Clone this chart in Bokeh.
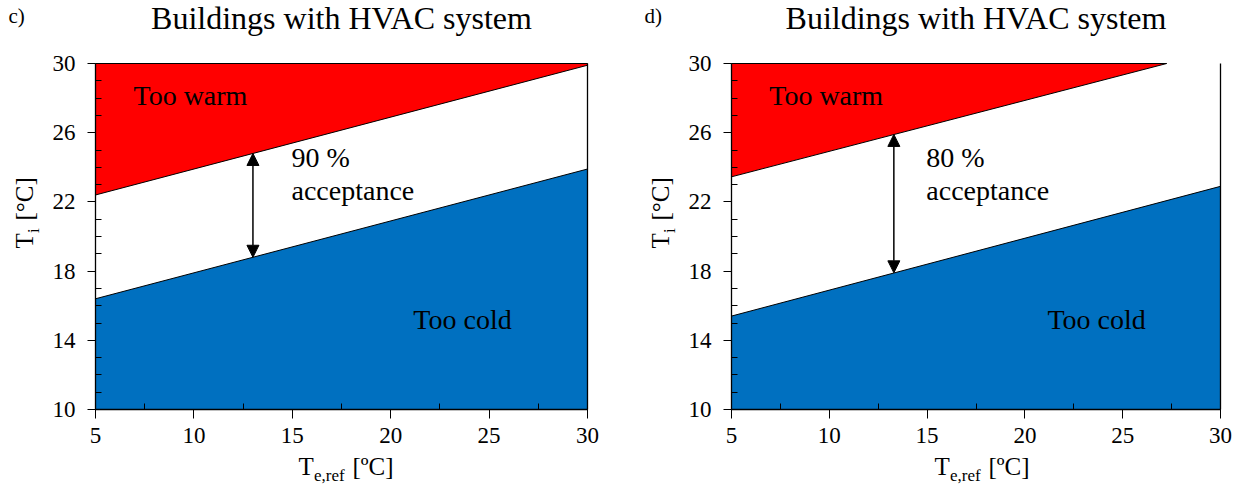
import math
from bokeh.plotting import figure
from bokeh.layouts import row
from bokeh.models import Range1d, FixedTicker, Label, Arrow, NormalHead
from bokeh.embed import file_html
from bokeh.resources import INLINE

FONT = "Liberation Serif"

# ---- data -------------------------------------------------------------
panel_tags = ["c)", "d)"]
titles = ["Buildings with HVAC system", "Buildings with HVAC system"]
acceptance_pct = ["90 %", "80 %"]

# upper comfort boundary (above = too warm)
warm_x = [[5, 30], [5, 27.25]]
warm_y = [[22.4, 29.9], [23.45, 30.0]]
# lower comfort boundary (below = too cold)
cold_x = [[5, 30], [5, 30]]
cold_y = [[16.4, 23.9], [15.4, 22.9]]
# acceptance arrows
arrow_x = [13.0, 13.3]
arrow_lo = [18.8, 17.9]
arrow_hi = [24.8, 25.9]

x_ticks = [5, 10, 15, 20, 25, 30]
y_ticks = [10, 14, 18, 22, 26, 30]
x_minor = [7.5, 12.5, 17.5, 22.5, 27.5]
y_minor = [11, 12, 13, 15, 16, 17, 19, 20, 21, 23, 24, 25, 27, 28, 29]

RED = "#FF0000"
BLUE = "#0070C0"

W, H = 621, 490
# plot-area pixel box inside each panel: (left, right, top, bottom)
BOXES = [(95, 587, 63, 409), (110, 599, 63, 409)]


def make_panel(i):
    x0, x1 = x_ticks[0], x_ticks[-1]
    y0, y1 = y_ticks[0], y_ticks[-1]
    L, R, T, B = BOXES[i]
    kx = (x1 - x0) / (R - L)
    ky = (y1 - y0) / (B - T)
    xr = Range1d(x0 - L * kx, x1 + (W - R) * kx)
    yr = Range1d(y0 - (H - B) * ky, y1 + T * ky)
    p = figure(width=W, height=H, output_backend="svg", toolbar_location=None,
               x_range=xr, y_range=yr,
               min_border_left=0, min_border_right=0,
               min_border_top=0, min_border_bottom=0)
    p.outline_line_color = None
    p.grid.visible = False
    p.background_fill_color = "white"
    p.border_fill_color = "white"

    # regions
    wx = warm_x[i]
    wy = warm_y[i]
    p.patch([wx[0]] + wx + [wx[-1]], [y1] + wy + [y1],
            fill_color=RED, line_color="black", line_width=1)
    cx = cold_x[i]
    cy = cold_y[i]
    p.patch([cx[0]] + cx + [cx[-1]], [y0] + cy + [y0],
            fill_color=BLUE, line_color="black", line_width=1)

    # right-hand border line
    p.segment(x0=[x1], y0=[y0], x1=[x1], y1=[y1], line_color="black", line_width=1.3)

    # arrow
    p.add_layout(Arrow(start=NormalHead(size=12, fill_color="black", line_color="black"),
                       end=NormalHead(size=12, fill_color="black", line_color="black"),
                       x_start=arrow_x[i], y_start=arrow_lo[i],
                       x_end=arrow_x[i], y_end=arrow_hi[i],
                       line_color="black", line_width=1.5))

    # axes (placed at the plot-area edges)
    p.xaxis.fixed_location = y0
    p.yaxis.fixed_location = x0
    p.xaxis.bounds = (x0, x1)
    p.yaxis.bounds = (y0, y1)
    for ax in (p.xaxis, p.yaxis):
        ax.axis_line_color = "black"
        ax.axis_line_width = 1.3
        ax.major_tick_line_color = "black"
        ax.minor_tick_line_color = "black"
        ax.major_tick_in = 0
        ax.minor_tick_in = 6
        ax.minor_tick_out = 0
        ax.major_label_text_font = FONT
        ax.major_label_text_font_size = "23px"
        ax.major_label_text_color = "black"
    p.xaxis.ticker = FixedTicker(ticks=x_ticks, minor_ticks=x_minor)
    p.yaxis.ticker = FixedTicker(ticks=y_ticks, minor_ticks=y_minor)
    p.xaxis.major_tick_out = 9
    p.yaxis.major_tick_out = 8
    p.xaxis.major_label_standoff = 9
    p.yaxis.major_label_standoff = 12

    def txt(text, x, y, size, **kw):
        p.add_layout(Label(x=x, y=y, text=text, text_font=FONT, text_font_size=size,
                           text_color="black", **kw))

    def stxt(text, px, py, size, **kw):
        # px, py: pixel position in the panel (py measured from top)
        txt(text, px, H - py, size, x_units="screen", y_units="screen", **kw)

    # region texts
    txt("Too warm", 6.93, 27.23, "28px")
    txt(acceptance_pct[i], 14.96, 23.66, "28px")
    txt("acceptance", 14.96, 21.78, "28px")
    txt("Too cold", 21.15, 14.32, "28px")

    # title and panel tag
    stxt(titles[i], (L + R) / 2, 35, "32px", text_align="center")
    stxt(panel_tags[i], L - 87, 27, "21px")

    # x-axis label: T_e,ref [ºC]
    stxt("T", L + 203, 479, "25px")
    stxt("e,ref", L + 218.5, 484, "17px")
    stxt("[ºC]", L + 257, 479, "25px")

    # y-axis label: T_i [°C]
    stxt("T", L - 58, 248, "25px", angle=math.pi / 2)
    stxt("i", L - 53, 232.5, "17px", angle=math.pi / 2)
    stxt("[°C]", L - 58, 220, "25px", angle=math.pi / 2)
    return p


p1 = make_panel(0)
p2 = make_panel(1)
layout = row(p1, p2)

open("out.html", "w").write(file_html(layout, INLINE))
